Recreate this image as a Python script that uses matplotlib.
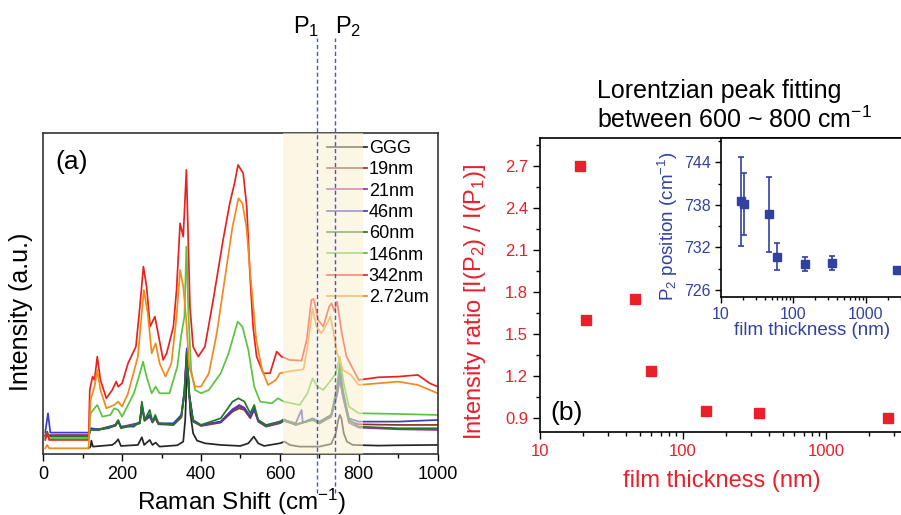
import matplotlib
matplotlib.use('Agg')
import matplotlib.pyplot as plt
from matplotlib.ticker import MultipleLocator, LogLocator, NullFormatter, FormatStrFormatter

plt.rcParams['font.family'] = ['Liberation Sans', 'DejaVu Sans']
plt.rcParams['mathtext.default'] = 'regular'

# ---- panel (a): Raman spectra (intensity in a.u.) ----
ggg_x = [115, 120, 122, 126, 175, 183, 190, 197, 240, 250, 256, 270, 277, 285, 295, 340, 355, 360, 363, 366,
         369, 373, 380, 390, 410, 450, 500, 520, 534, 545, 560, 600, 612, 625, 650, 700, 730, 742, 748, 752,
         756, 762, 770, 785, 850, 900, 1000]
ggg_y = [18, 23, 41, 23, 28, 35, 45, 25, 28, 51, 28, 43, 28, 35, 23, 27, 38, 103, 203, 267,
         213, 123, 63, 41, 33, 28, 25, 33, 53, 33, 25, 33, 38, 28, 23, 23, 31, 63, 103, 118,
         108, 63, 38, 28, 26, 27, 28]

nm19_x = [5, 10, 15, 115, 120, 140, 183, 190, 197, 245, 250, 257, 270, 277, 284, 292, 330, 350, 358, 364,
          370, 380, 400, 450, 480, 497, 510, 525, 535, 545, 565, 600, 610, 640, 683, 700, 730, 745, 752, 760,
          775, 800, 900, 1000]
nm19_y = [53, 68, 53, 53, 75, 73, 85, 98, 80, 93, 143, 100, 113, 95, 108, 90, 88, 110, 183, 300,
          178, 98, 85, 95, 128, 138, 133, 108, 133, 98, 83, 93, 100, 90, 103, 95, 115, 178, 223, 173,
          100, 90, 88, 88]

nm21_x = [5, 115, 120, 140, 183, 190, 197, 245, 250, 257, 270, 277, 284, 292, 330, 350, 358, 364, 370, 380,
          400, 450, 480, 497, 510, 525, 535, 545, 565, 600, 610, 640, 683, 700, 730, 745, 752, 760, 775, 800,
          900, 1000]
nm21_y = [58, 58, 77, 75, 88, 100, 82, 95, 150, 102, 120, 97, 112, 92, 90, 112, 188, 310, 180, 100,
          86, 98, 135, 148, 140, 112, 136, 100, 84, 95, 102, 88, 105, 92, 112, 180, 233, 175, 95, 80,
          75, 73]

nm46_x = [5, 12, 18, 115, 120, 140, 165, 183, 190, 197, 230, 245, 250, 257, 270, 277, 284, 292, 330, 350,
          358, 364, 370, 380, 400, 450, 480, 497, 510, 525, 535, 545, 565, 600, 610, 640, 655, 658, 683, 700,
          730, 745, 752, 760, 775, 800, 900, 1000]
nm46_y = [65, 123, 65, 65, 78, 75, 78, 88, 101, 83, 83, 98, 148, 103, 118, 98, 113, 93, 93, 118,
          193, 318, 183, 103, 88, 98, 133, 143, 138, 113, 138, 103, 88, 98, 103, 93, 133, 95, 108, 98,
          118, 183, 243, 183, 108, 98, 98, 103]

nm60_x = [5, 115, 120, 140, 183, 190, 197, 245, 250, 257, 270, 277, 284, 292, 330, 350, 358, 364, 370, 380,
          400, 450, 480, 495, 510, 525, 535, 545, 565, 600, 610, 640, 683, 700, 730, 745, 752, 760, 775, 800,
          900, 1000]
nm60_y = [55, 55, 73, 73, 88, 103, 78, 93, 158, 103, 133, 98, 118, 93, 88, 113, 183, 303, 173, 98,
          88, 108, 158, 168, 158, 123, 148, 103, 85, 98, 105, 88, 103, 93, 118, 203, 273, 193, 103, 83,
          78, 78]

nm146_x = [5, 10, 15, 115, 120, 130, 137, 150, 170, 180, 190, 200, 230, 245, 253, 262, 275, 285, 295, 320,
           340, 350, 358, 363, 368, 375, 385, 400, 420, 450, 470, 493, 505, 520, 535, 550, 580, 595, 610, 650,
           670, 683, 695, 710, 730, 742, 752, 762, 775, 800, 900, 1000]
nm146_y = [48, 63, 48, 48, 123, 138, 148, 113, 118, 138, 133, 113, 183, 243, 278, 233, 183, 203, 183, 183,
           263, 358, 413, 623, 423, 253, 193, 183, 193, 243, 303, 398, 383, 313, 203, 158, 153, 168, 158, 148,
           183, 228, 203, 193, 223, 243, 293, 213, 143, 123, 121, 118]

nm342_x = [5, 10, 15, 115, 118, 125, 130, 137, 145, 160, 175, 185, 190, 200, 215, 235, 245, 254, 262, 271,
           283, 288, 304, 313, 330, 338, 347, 355, 363, 372, 380, 393, 410, 431, 456, 473, 485, 494, 507, 516,
           524, 532, 541, 558, 575, 592, 604, 625, 655, 668, 680, 686, 697, 710, 725, 731, 738, 745, 757, 769,
           800, 850, 900, 950, 980, 1000]
nm342_y = [43, 63, 43, 43, 193, 233, 223, 293, 223, 168, 193, 218, 203, 213, 273, 323, 443, 563, 503, 383,
           413, 383, 283, 303, 383, 493, 693, 653, 853, 443, 323, 293, 323, 463, 643, 753, 813, 868, 843, 743,
           543, 383, 293, 243, 243, 308, 293, 283, 281, 343, 463, 466, 403, 383, 443, 453, 430, 458, 363, 293,
           223, 231, 233, 238, 213, 203]

um272_x = [5, 10, 15, 115, 120, 130, 137, 145, 160, 180, 190, 200, 215, 240, 255, 265, 275, 285, 295, 310,
           325, 338, 347, 355, 362, 370, 385, 400, 420, 440, 460, 480, 495, 505, 515, 525, 540, 555, 570, 590,
           600, 620, 660, 670, 683, 693, 705, 720, 728, 735, 745, 760, 780, 800, 850, 900, 950, 1000]
um272_y = [18, 28, 18, 18, 163, 203, 253, 193, 138, 148, 158, 143, 183, 293, 493, 423, 303, 333, 273, 233,
           273, 413, 553, 503, 413, 263, 203, 203, 243, 363, 523, 683, 768, 753, 683, 543, 343, 253, 208, 223,
           243, 248, 255, 323, 438, 383, 363, 393, 413, 373, 303, 253, 238, 208, 213, 218, 208, 183]

spectra = [
    ('GGG', ggg_x, ggg_y, '#262626'),
    ('19nm', nm19_x, nm19_y, '#8E3322'),
    ('21nm', nm21_x, nm21_y, '#9A2F9A'),
    ('46nm', nm46_x, nm46_y, '#3B3FC0'),
    ('60nm', nm60_x, nm60_y, '#1F7A24'),
    ('146nm', nm146_x, nm146_y, '#5BC43F'),
    ('342nm', nm342_x, nm342_y, '#E8231F'),
    ('2.72um', um272_x, um272_y, '#F28A1C'),
]

p_lines = [694, 741]

# ---- panel (b) ----
thickness = [19, 21, 46, 60, 146, 342, 2720]
ratio = [2.70, 1.60, 1.75, 1.24, 0.95, 0.94, 0.90]
p2_pos = [738.5, 738.1, 736.7, 730.7, 729.7, 729.8, 728.8]
p2_err = [6.3, 4.4, 5.3, 1.9, 1.0, 0.95, 0.3]

red = '#E8202A'
blue = '#3141A0'

fig = plt.figure(figsize=(9.01, 5.15), dpi=100)

# ----- (a) -----
axa = fig.add_axes([0.048, 0.1179, 0.4377, 0.6233])
for name, xs, ys, c in spectra:
    axa.plot(xs, ys, color=c, lw=1.25, label=name)
axa.set_xlim(0, 1000)
axa.set_ylim(0, 963)
axa.axvspan(607, 810, color='#FBEFD0', alpha=0.55, lw=0, zorder=6)
for xp in p_lines:
    axa.axvline(xp, ymin=-0.12, ymax=1.297, color='#4457D0', ls=(0, (3, 2)), lw=1,
                clip_on=False, zorder=7)
fig.text(293 / 901, 1 - 33 / 515, 'P$_1$', fontsize=17, va='baseline')
fig.text(335 / 901, 1 - 33 / 515, 'P$_2$', fontsize=17, va='baseline')

leg = axa.legend(loc='upper left', bbox_to_anchor=(0.71, 0.99), frameon=False, fontsize=13,
                 handlelength=2.2, handletextpad=0.12, labelspacing=0.24, borderpad=0.2,
                 borderaxespad=0)
leg.set_zorder(5)

axa.set_yticks([])
axa.xaxis.set_major_locator(MultipleLocator(200))
axa.xaxis.set_minor_locator(MultipleLocator(100))
axa.tick_params(axis='x', which='major', direction='out', length=5, width=1, labelsize=13)
axa.tick_params(axis='x', which='minor', direction='out', length=3, width=1)
for s in axa.spines.values():
    s.set_color('#333333')
    s.set_linewidth(1.2)
axa.set_xlabel('Raman Shift (cm$^{-1}$)', fontsize=17.5)
axa.xaxis.set_label_coords(0.503, -0.1)
axa.set_ylabel('Intensity (a.u.)', fontsize=18)
axa.yaxis.set_label_coords(-0.026, 0.443)
axa.text(0.03, 0.911, '(a)', transform=axa.transAxes, fontsize=19, ha='left', va='center')

# ----- (b) -----
axb = fig.add_axes([540 / 901, 82.7 / 515, 372 / 901, 294 / 515])
axb.set_xscale('log')
axb.plot(thickness, ratio, 's', color=red, ms=7.5, mec=red)
axb.set_xlim(10, 4000)
axb.set_ylim(0.8, 2.895)
axb.set_xticks([10, 100, 1000])
axb.set_xticklabels(['10', '100', '1000'])
axb.xaxis.set_minor_locator(LogLocator(subs=range(2, 10)))
axb.xaxis.set_minor_formatter(NullFormatter())
axb.yaxis.set_major_locator(MultipleLocator(0.3))
axb.yaxis.set_minor_locator(MultipleLocator(0.15))
axb.yaxis.set_major_formatter(FormatStrFormatter('%.1f'))
axb.tick_params(which='major', direction='out', length=5, width=1, labelsize=12, labelcolor=red)
axb.tick_params(which='minor', direction='out', length=3, width=1)
for s in axb.spines.values():
    s.set_linewidth(1.2)
axb.set_ylabel('Intensity ratio [I(P$_2$) / I(P$_1$)]', fontsize=17, color=red)
axb.yaxis.set_label_coords(-0.14, 0.443)
axb.set_xlabel('film thickness (nm)', fontsize=17, color=red)
axb.xaxis.set_label_coords(0.49, -0.128)
axb.text(0.027, 0.065, '(b)', transform=axb.transAxes, fontsize=19, ha='left', va='center')

fig.text(597 / 901, 1 - 98 / 515, 'Lorentzian peak fitting', fontsize=18, va='baseline')
fig.text(597 / 901, 1 - 128 / 515, 'between 600 ~ 800 cm$^{-1}$', fontsize=18, va='baseline')

# ----- inset -----
axi = fig.add_axes([721 / 901, 218.3 / 515, 188.6 / 901, 158.4 / 515])
axi.set_xscale('log')
axi.errorbar(thickness, p2_pos, yerr=p2_err, fmt='s', color=blue, ms=6, capsize=2.5,
             elinewidth=1.2, capthick=1.2)
axi.set_xlim(10, 4000)
axi.set_ylim(725.06, 747.4)
axi.set_xticks([10, 100, 1000])
axi.set_xticklabels(['10', '100', '1000'])
axi.xaxis.set_minor_locator(LogLocator(subs=range(2, 10)))
axi.xaxis.set_minor_formatter(NullFormatter())
axi.set_yticks([726, 732, 738, 744])
axi.yaxis.set_minor_locator(MultipleLocator(3))
axi.tick_params(which='major', direction='out', length=4, width=1, labelsize=11.5, labelcolor=blue)
axi.tick_params(which='minor', direction='out', length=2.5, width=1)
for s in axi.spines.values():
    s.set_linewidth(1.2)
axi.set_ylabel('P$_2$ position (cm$^{-1}$)', fontsize=13.5, color=blue)
axi.yaxis.set_label_coords(-0.217, 0.442)
axi.set_xlabel('film thickness (nm)', fontsize=13.5, color=blue)
axi.xaxis.set_label_coords(0.481, -0.158)

fig.savefig('out.png', dpi=100)
